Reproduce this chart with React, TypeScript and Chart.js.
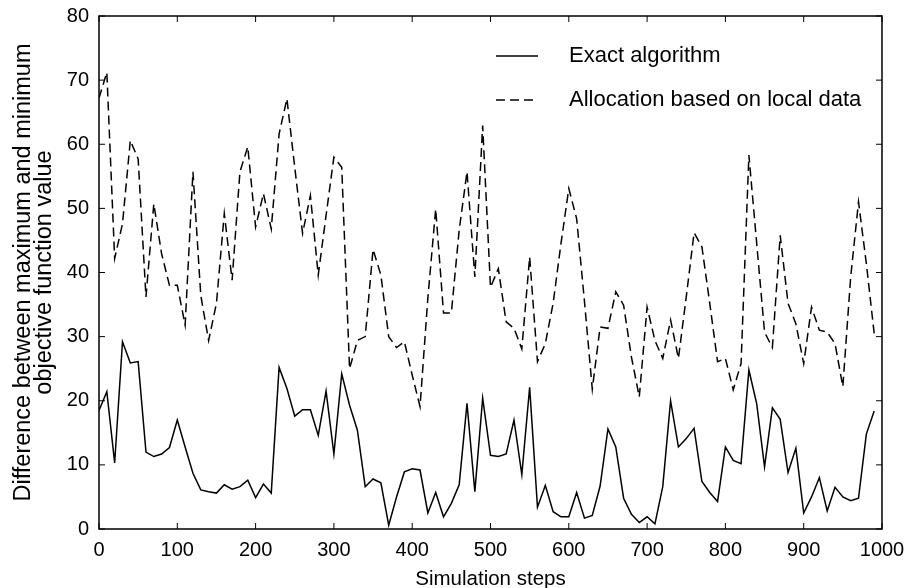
import React, { useEffect, useRef } from 'react';
import { Chart, registerables } from 'chart.js';

Chart.register(...registerables);

// Simulation step of each sample (every 10 steps)
const steps: number[] = Array.from({ length: 100 }, (_, i) => i * 10);

const exactAlgorithm: number[] = [
  18.5, 21.4, 10.3, 29.2, 25.9, 26.1, 12.0, 11.3, 11.7, 12.7,
  17.0, 12.8, 8.7, 6.1, 5.8, 5.6, 6.9, 6.2, 6.6, 7.6,
  4.9, 7.0, 5.6, 25.2, 21.9, 17.6, 18.6, 18.6, 14.6, 21.5,
  11.7, 24.2, 19.3, 15.4, 6.6, 7.8, 7.2, 0.6, 5.0, 8.9,
  9.4, 9.2, 2.5, 5.7, 1.9, 4.0, 6.9, 19.6, 5.8, 20.4,
  11.5, 11.3, 11.7, 17.0, 8.5, 22.1, 3.4, 6.8, 2.7, 1.9,
  1.9, 5.7, 1.7, 2.1, 6.7, 15.6, 12.8, 4.8, 2.3, 1.0,
  1.9, 0.8, 6.6, 20.0, 12.8, 14.1, 15.7, 7.4, 5.7, 4.3,
  12.8, 10.7, 10.2, 24.8, 19.5, 9.7, 18.9, 17.1, 8.8, 12.6,
  2.5, 5.0, 8.0, 2.8, 6.5, 5.0, 4.4, 4.8, 14.8, 18.4,
];

const localData: number[] = [
  67.2, 71.2, 42.2, 47.6, 60.6, 57.7, 36.2, 50.7, 42.9, 38.0,
  38.0, 31.8, 55.7, 36.4, 29.4, 35.2, 49.2, 38.8, 55.7, 59.6,
  47.1, 52.3, 46.8, 61.6, 67.1, 56.4, 46.1, 52.0, 39.6, 48.9,
  58.0, 56.4, 25.0, 29.4, 30.0, 43.6, 39.6, 30.0, 28.3, 29.2,
  24.0, 19.1, 36.0, 49.9, 33.7, 33.7, 46.6, 55.7, 39.3, 62.9,
  37.7, 40.6, 32.3, 31.3, 28.1, 42.4, 26.1, 28.9, 35.2, 44.5,
  53.1, 48.4, 35.5, 21.8, 31.5, 31.3, 37.0, 34.9, 26.8, 20.6,
  34.6, 29.4, 26.6, 32.6, 26.6, 36.2, 46.2, 44.0, 35.2, 26.1,
  26.6, 21.7, 25.8, 58.3, 44.5, 30.7, 28.3, 45.8, 35.2, 32.0,
  25.8, 34.6, 31.0, 30.7, 28.9, 22.2, 39.3, 51.0, 41.4, 30.5,
];

const seriesLabels: string[] = ['Exact algorithm', 'Allocation based on local data'];
const xTitle = 'Simulation steps';
const yTitle: string[] = ['Difference between maximum and minimum', 'objective function value'];

const FONT = '"Liberation Sans", Arial, Helvetica, sans-serif';
const TICK_FS = 20;
const XTITLE_FS = 20.5;
const YTITLE_FS = 23.5;
const LEGEND_FS = 22;
const TICK_LEN = 6;

const framePlugin = {
  id: 'frame',
  afterDatasetsDraw(chart: any) {
    const { ctx, chartArea, scales } = chart;
    const { left, right, top, bottom } = chartArea;
    ctx.save();
    ctx.strokeStyle = '#000';
    ctx.lineWidth = 1.5;
    ctx.strokeRect(left, top, right - left, bottom - top);
    ctx.lineWidth = 1;
    ctx.beginPath();
    scales.x.ticks.forEach((t: any) => {
      const p = scales.x.getPixelForValue(t.value);
      ctx.moveTo(p, bottom);
      ctx.lineTo(p, bottom - TICK_LEN);
      ctx.moveTo(p, top);
      ctx.lineTo(p, top + TICK_LEN);
    });
    scales.y.ticks.forEach((t: any) => {
      const p = scales.y.getPixelForValue(t.value);
      ctx.moveTo(left, p);
      ctx.lineTo(left + TICK_LEN, p);
      ctx.moveTo(right, p);
      ctx.lineTo(right - TICK_LEN, p);
    });
    ctx.stroke();
    ctx.restore();
  },
};

const legendPlugin = {
  id: 'insideLegend',
  afterDraw(chart: any) {
    const { ctx } = chart;
    const x0 = 496, x1 = 538, tx = 569, y0 = 56, dy = 44;
    chart.data.datasets.forEach((ds: any, i: number) => {
      const yy = y0 + i * dy;
      ctx.save();
      ctx.strokeStyle = ds.borderColor;
      ctx.lineWidth = ds.borderWidth;
      ctx.setLineDash(ds.borderDash || []);
      ctx.beginPath();
      ctx.moveTo(x0, yy);
      ctx.lineTo(x1, yy);
      ctx.stroke();
      ctx.restore();
      ctx.save();
      ctx.fillStyle = '#000';
      ctx.font = `${LEGEND_FS}px ${FONT}`;
      ctx.textBaseline = 'middle';
      ctx.textAlign = 'left';
      ctx.fillText(ds.label, tx, yy);
      ctx.restore();
    });
  },
};

export default function App() {
  const ref = useRef<HTMLCanvasElement | null>(null);

  useEffect(() => {
    if (!ref.current) return;
    const chart = new Chart(ref.current, {
      type: 'line',
      data: {
        datasets: [
          {
            label: seriesLabels[0],
            data: steps.map((s, i) => ({ x: s, y: exactAlgorithm[i] })),
            borderColor: '#000',
            borderWidth: 1.5,
            pointRadius: 0,
            tension: 0,
            fill: false,
          },
          {
            label: seriesLabels[1],
            data: steps.map((s, i) => ({ x: s, y: localData[i] })),
            borderColor: '#000',
            borderWidth: 1.5,
            borderDash: [9, 5],
            pointRadius: 0,
            tension: 0,
            fill: false,
          },
        ],
      },
      options: {
        animation: false,
        responsive: true,
        maintainAspectRatio: false,
        layout: { padding: { left: 0, right: 32, top: 16, bottom: 0 } },
        plugins: { legend: { display: false }, tooltip: { enabled: false } },
        scales: {
          x: {
            type: 'linear',
            min: 0,
            max: 1000,
            ticks: {
              stepSize: 100, color: '#000', font: { family: FONT, size: TICK_FS }, padding: 9, maxRotation: 0,
              callback: (v: any) => String(v),
            },
            grid: { display: false, drawTicks: false },
            border: { display: false },
            title: {
              display: true, text: xTitle, color: '#000',
              font: { family: FONT, size: XTITLE_FS, lineHeight: 0.85 }, padding: { top: 0, bottom: 0 },
            },
            afterFit: (s: any) => { s.height = 59; s.paddingLeft = 0; s.paddingRight = 0; },
          },
          y: {
            min: 0,
            max: 80,
            ticks: {
              stepSize: 10, color: '#000', font: { family: FONT, size: TICK_FS }, padding: 10,
              callback: (v: any) => String(v),
            },
            grid: { display: false, drawTicks: false },
            border: { display: false },
            title: {
              display: true, text: yTitle, color: '#000',
              font: { family: FONT, size: YTITLE_FS, lineHeight: 0.9 }, padding: { top: 13, bottom: 0 },
            },
            afterFit: (s: any) => { s.width = 99; s.paddingTop = 0; s.paddingBottom = 0; },
          },
        },
      } as any,
      plugins: [framePlugin, legendPlugin],
    });
    return () => chart.destroy();
  }, []);

  return (
    <div style={{ position: 'fixed', left: 0, top: 0, width: 914, height: 588, background: '#fff' }}>
      <canvas ref={ref} />
    </div>
  );
}
